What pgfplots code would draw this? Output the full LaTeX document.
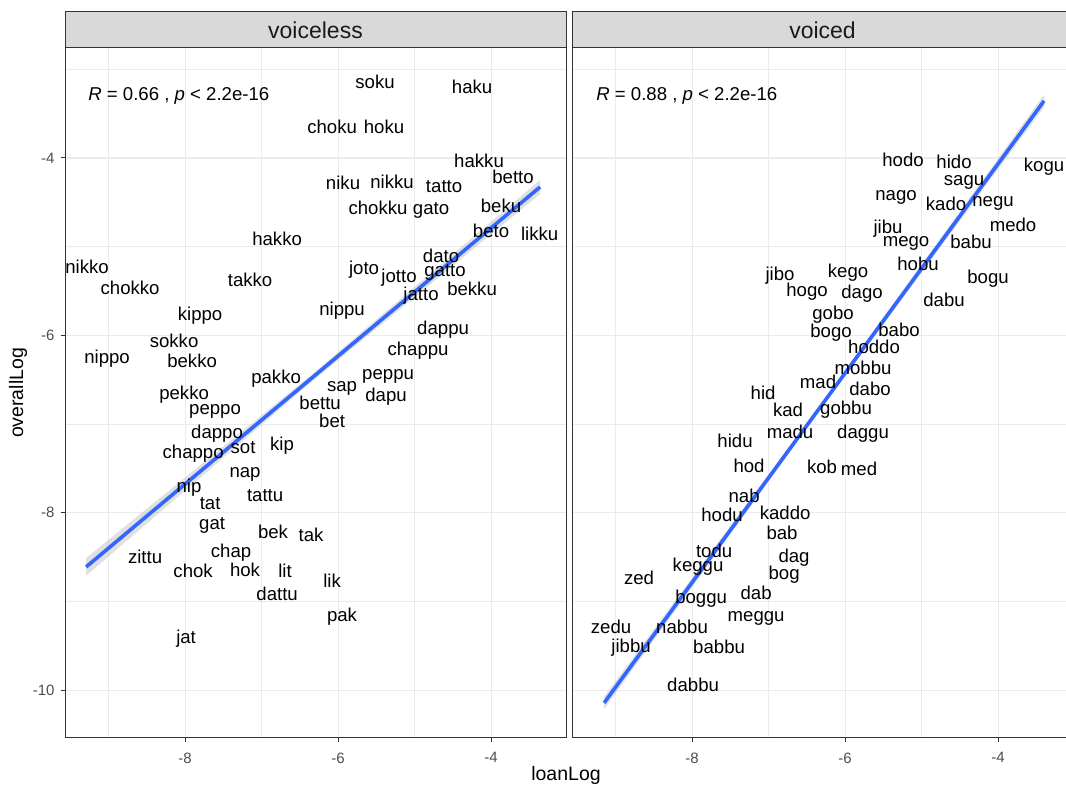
\documentclass[border=0pt]{standalone}
\usepackage{pgfplots}
\usepackage{pgfplotstable}
\pgfplotsset{compat=1.18}
\usepackage{fontspec}
\setmainfont{Liberation Sans}

\definecolor{gridc}{HTML}{EBEBEB}
\definecolor{borderc}{HTML}{333333}
\definecolor{stripc}{HTML}{D9D9D9}
\definecolor{tickc}{HTML}{4D4D4D}
\definecolor{stript}{HTML}{1A1A1A}
\definecolor{fitc}{HTML}{3366FF}

\newcommand\labf{\fontsize{18.6}{20}\selectfont}
\newcommand\tickf{\fontsize{15}{16}\selectfont}
\newcommand\titf{\fontsize{19.5}{21}\selectfont}
\newcommand\stripf{\fontsize{23}{25}\selectfont}

% word frequencies: loan log-frequency vs overall log-frequency
\pgfplotstableread{
label x y
soku -5.516 -3.143
haku -4.248 -3.200
choku -6.078 -3.650
hoku -5.399 -3.650
hakku -4.157 -4.034
betto -3.712 -4.214
niku -5.935 -4.282
nikku -5.294 -4.271
tatto -4.614 -4.327
chokku -5.477 -4.564
gato -4.784 -4.564
beku -3.869 -4.541
beto -4.000 -4.823
likku -3.365 -4.850
hakko -6.797 -4.913
nikko -9.281 -5.229
joto -5.660 -5.240
dato -4.654 -5.105
jotto -5.203 -5.330
gatto -4.601 -5.274
chokko -8.719 -5.466
takko -7.150 -5.375
jatto -4.915 -5.533
bekku -4.248 -5.477
kippo -7.804 -5.759
nippu -5.948 -5.702
dappu -4.627 -5.917
sokko -8.144 -6.063
nippo -9.020 -6.244
bekko -7.908 -6.289
chappu -4.954 -6.153
pakko -6.810 -6.469
peppu -5.346 -6.446
sap -5.948 -6.582
pekko -8.013 -6.649
dapu -5.373 -6.672
bettu -6.235 -6.762
peppo -7.608 -6.841
bet -6.078 -6.965
dappo -7.582 -7.089
chappo -7.895 -7.315
sot -7.242 -7.269
kip -6.732 -7.224
nap -7.216 -7.551
nip -7.948 -7.698
tattu -6.954 -7.811
tat -7.673 -7.901
gat -7.647 -8.126
bek -6.850 -8.216
tak -6.353 -8.250
zittu -8.523 -8.498
chap -7.399 -8.431
chok -7.895 -8.656
hok -7.216 -8.645
lit -6.693 -8.656
dattu -6.797 -8.915
lik -6.078 -8.769
pak -5.948 -9.152
jat -7.987 -9.400
}\voiceless

\pgfplotstableread{
label x y
hodo -5.242 -4.023
hido -4.575 -4.045
kogu -3.399 -4.079
sagu -4.444 -4.259
nago -5.333 -4.428
kado -4.680 -4.519
negu -4.065 -4.496
jibu -5.438 -4.778
medo -3.804 -4.755
mego -5.203 -4.947
babu -4.353 -4.947
hobu -5.046 -5.195
jibo -6.850 -5.308
kego -5.961 -5.274
bogu -4.131 -5.342
hogo -6.497 -5.488
dago -5.778 -5.511
dabu -4.706 -5.601
gobo -6.157 -5.747
bogo -6.183 -5.950
babo -5.294 -5.939
hoddo -5.621 -6.131
mobbu -5.765 -6.368
mad -6.353 -6.525
dabo -5.673 -6.604
hid -7.072 -6.649
kad -6.745 -6.841
gobbu -5.987 -6.818
madu -6.719 -7.089
daggu -5.765 -7.089
hidu -7.438 -7.191
hod -7.255 -7.472
kob -6.301 -7.484
med -5.817 -7.506
nab -7.320 -7.811
hodu -7.608 -8.025
kaddo -6.784 -8.002
bab -6.824 -8.228
todu -7.712 -8.431
keggu -7.922 -8.589
dag -6.667 -8.487
bog -6.797 -8.679
zed -8.693 -8.735
dab -7.163 -8.904
boggu -7.882 -8.949
meggu -7.163 -9.175
zedu -9.059 -9.287
nabbu -8.131 -9.287
jibbu -8.797 -9.502
babbu -7.647 -9.513
dabbu -7.987 -9.941
}\voiced

\pgfplotsset{
  panel/.style={
    scale only axis, width=501pt, height=690pt,
    xmin=-9.57, xmax=-3.02, ymin=-10.54, ymax=-2.76,
    xtick={-8,-6,-4}, xticklabels={-8,-6,-4},
    ytick={-10,-8,-6,-4},
    minor xtick={-9,-7,-5,-3}, minor ytick={-9,-7,-5,-3},
    grid=both,
    major grid style={gridc, line width=1.1pt},
    minor grid style={gridc, line width=0.55pt},
    axis line style={borderc, line width=1pt},
    tick align=outside, tick pos=left,
    major tick length=4pt, minor tick length=0pt,
    major tick style={borderc, line width=1pt},
    minor tick style={draw=none},
    ticklabel style={font=\tickf, text=tickc},
    xticklabel style={yshift=-7pt},
    anchor=south west,
  },
  words/.style={
    only marks, mark=none,
    nodes near coords, point meta=explicit symbolic,
    nodes near coords align=center,
    every node near coord/.append style={anchor=center, font=\labf,
      text=black, inner sep=0pt, text depth=0pt},
  },
  fit/.style={fitc, line width=3.6pt},
  band/.style={fill=gray!60, fill opacity=0.4, draw=none},
}

\begin{document}
\begin{tikzpicture}
% voiceless panel
\begin{axis}[panel, at={(65pt,49pt)},
  yticklabels={-10,-8,-6,-4}, yticklabel style={xshift=-3pt}]
  \addplot[words] table[x=x, y=y, meta=label] {\voiceless};
  \addplot[band] coordinates {(-9.294,-8.511) (-6.33,-6.432) (-3.359,-4.247)
    (-3.359,-4.407) (-6.33,-6.512) (-9.294,-8.711) (-9.294,-8.511)};
  \addplot[fit] coordinates {(-9.294,-8.611) (-3.359,-4.327)};
  \node[anchor=west, font=\labf, inner sep=0pt] at (axis cs:-9.268,-3.301)
    {\textit{R} = 0.66 , \textit{p} < 2.2e-16};
\end{axis}
% voiced panel
\begin{axis}[panel, at={(572pt,49pt)},
  yticklabels={}, ytick style={draw=none}]
  \addplot[words] table[x=x, y=y, meta=label] {\voiced};
  \addplot[band] coordinates {(-9.150,-10.074) (-6.27,-6.715) (-3.399,-3.287)
    (-3.399,-3.427) (-6.27,-6.775) (-9.150,-10.214) (-9.150,-10.074)};
  \addplot[fit] coordinates {(-9.150,-10.144) (-3.399,-3.357)};
  \node[anchor=west, font=\labf, inner sep=0pt] at (axis cs:-9.255,-3.301)
    {\textit{R} = 0.88 , \textit{p} < 2.2e-16};
\end{axis}
% facet strips
\draw[borderc, line width=1pt, fill=stripc] (65pt,739pt) rectangle (566pt,775pt);
\draw[borderc, line width=1pt, fill=stripc] (572pt,739pt) rectangle (1073pt,775pt);
\node[font=\stripf, text=stript] at (315.5pt,757pt) {voiceless};
\node[font=\stripf, text=stript] at (822.5pt,757pt) {voiced};
% axis titles
\node[font=\titf, rotate=90] at (18pt,394pt) {overallLog};
\node[font=\titf] at (566pt,12pt) {loanLog};
\pgfresetboundingbox
\path[use as bounding box] (0pt,0pt) rectangle (1066pt,787pt);
\end{tikzpicture}
\end{document}
